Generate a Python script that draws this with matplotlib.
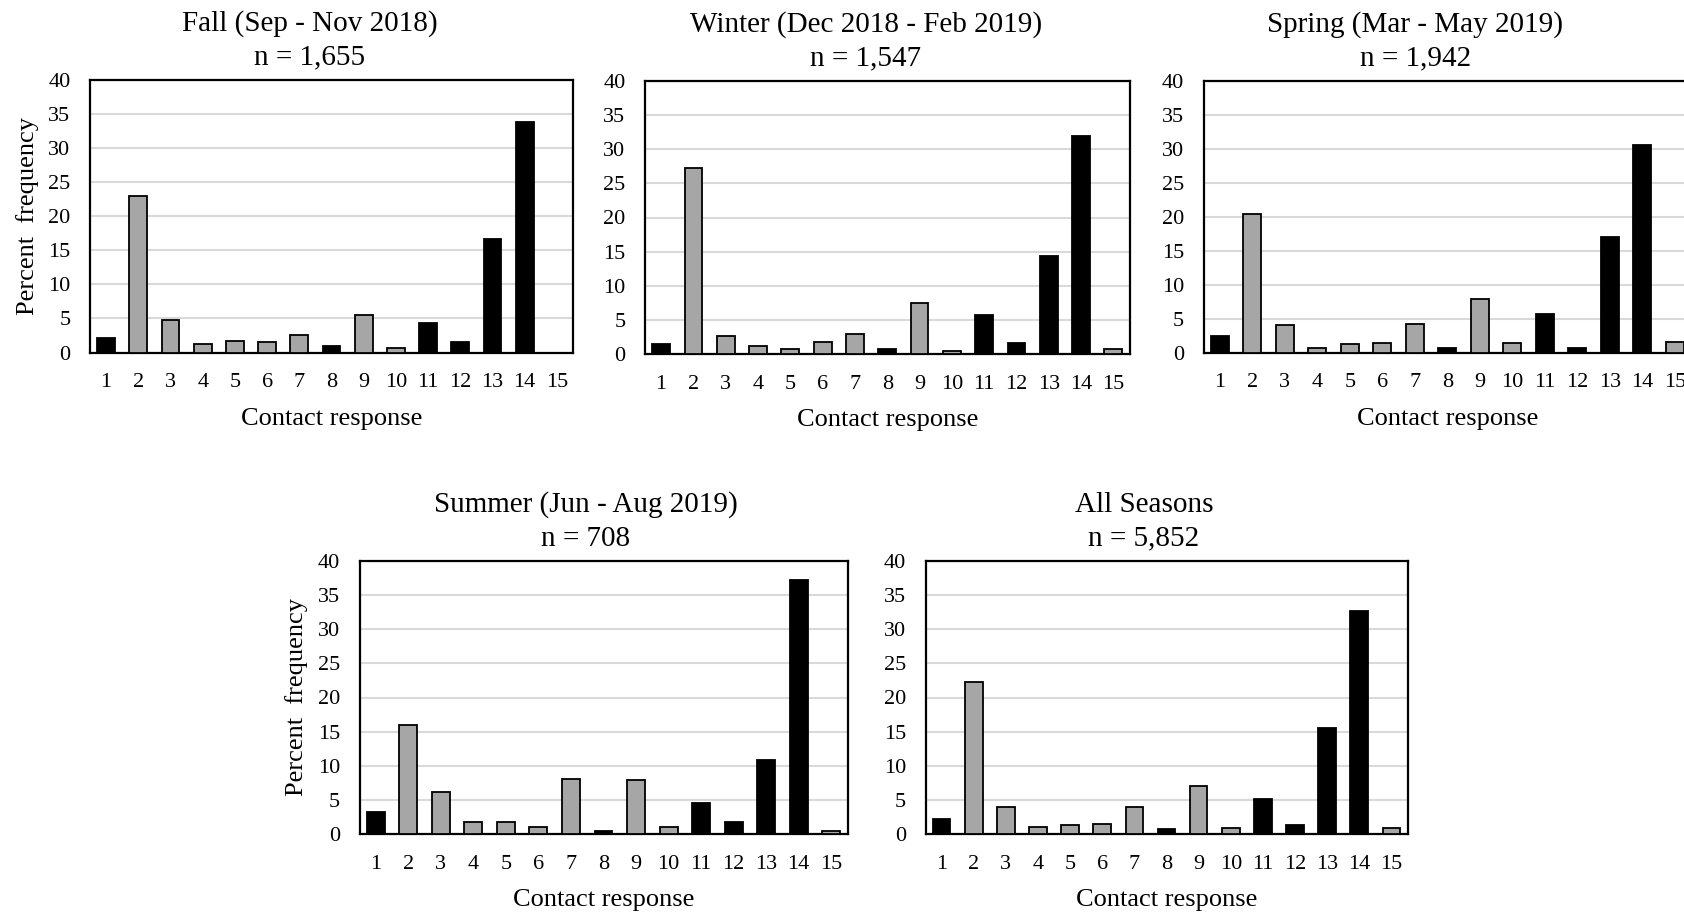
import matplotlib
matplotlib.use("Agg")
import matplotlib.pyplot as plt
import numpy as np

plt.rcParams['font.family'] = ['Liberation Serif', 'DejaVu Serif']

# Contact response categories 1..15
responses = list(range(1, 16))
black_responses = [1, 8, 11, 12, 13, 14]   # drawn solid black, the rest grey

# Percent frequency per contact response
fall = [2.2, 23.0, 4.7, 1.3, 1.7, 1.5, 2.5, 0.9, 5.5, 0.7, 4.4, 1.5, 16.7, 33.8, 0.0]
winter = [1.4, 27.3, 2.7, 1.2, 0.8, 1.7, 2.9, 0.8, 7.4, 0.5, 5.7, 1.6, 14.3, 32.0, 0.8]
spring = [2.5, 20.4, 4.0, 0.6, 1.2, 1.4, 4.2, 0.6, 7.9, 1.4, 5.7, 0.6, 17.0, 30.6, 1.5]
summer = [3.2, 15.9, 6.1, 1.7, 1.7, 1.0, 8.1, 0.5, 7.9, 1.0, 4.5, 1.7, 10.9, 37.2, 0.5]
all_seasons = [2.2, 22.3, 4.0, 1.0, 1.3, 1.5, 3.9, 0.7, 7.1, 0.9, 5.2, 1.3, 15.6, 32.7, 0.9]

titles = ['Fall (Sep - Nov 2018)', 'Winter (Dec 2018 - Feb 2019)',
          'Spring (Mar - May 2019)', 'Summer (Jun - Aug 2019)', 'All Seasons']
sample_sizes = ['1,655', '1,547', '1,942', '708', '5,852']
series = [fall, winter, spring, summer, all_seasons]

# axes rectangles in pixels (left, top, right, bottom) of the 1684x914 figure
W, H = 1684, 914
boxes = [(90, 80, 573, 352.5), (645, 81, 1129.5, 354), (1203.5, 81, 1691, 352.5),
         (359.5, 561, 847.5, 834), (925.5, 561, 1407.5, 834)]
title_x = [0.455, 0.456, 0.434, 0.464, 0.453]
has_ylabel = [True, False, False, True, False]

GREY = '#a6a6a6'
colors = ['black' if r in black_responses else GREY for r in responses]

fig = plt.figure(figsize=(W / 100, H / 100), dpi=100)

for i, vals in enumerate(series):
    l, t, r, b = boxes[i]
    ax = fig.add_axes([l / W, (H - b) / H, (r - l) / W, (b - t) / H])
    ax.bar(responses, vals, width=0.55, color=colors, edgecolor='black', linewidth=1.3, zorder=3)
    ax.set_xlim(0.5, 15.5)
    ax.set_ylim(0, 40)
    ax.set_yticks(np.arange(0, 41, 5))
    ax.set_xticks(responses)
    ax.yaxis.grid(True, color='#d9d9d9', linewidth=1.5)
    ax.set_axisbelow(True)
    for s in ax.spines.values():
        s.set_linewidth(1.6)
        s.set_color('black')
    ax.tick_params(axis='both', length=0, labelsize=16)
    ax.tick_params(axis='x', pad=15)
    ax.tick_params(axis='y', pad=14)
    ax.set_xlabel('Contact response', fontsize=19, labelpad=11)
    if has_ylabel[i]:
        ax.set_ylabel('Percent  frequency', fontsize=19, labelpad=7)
    ax.set_title(f'{titles[i]}\nn = {sample_sizes[i]}', x=title_x[i], fontsize=21,
                 pad=11, linespacing=1.37)

fig.savefig('out.png', dpi=100)
